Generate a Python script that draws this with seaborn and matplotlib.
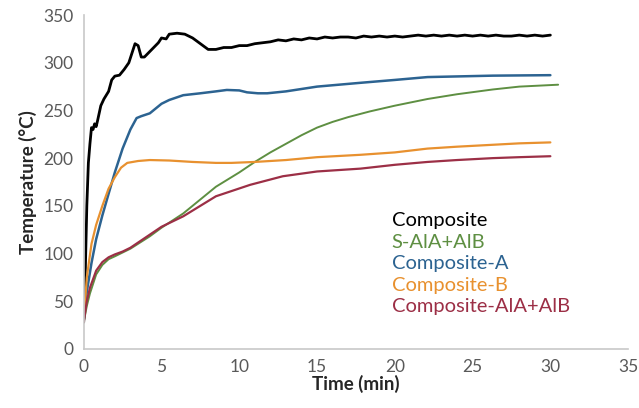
import matplotlib
matplotlib.use('Agg')
import pandas as pd
import matplotlib.pyplot as plt
import seaborn as sns

sns.set_style('white')
plt.rcParams['font.family'] = ['Lato', 'DejaVu Sans']

# Composite (black, noisy trace)
t_comp = [0, 0.1, 0.2, 0.3, 0.4, 0.5, 0.6, 0.7, 0.8, 0.9, 1.1, 1.3, 1.6, 1.8, 2.0, 2.3,
          2.6, 2.9, 3.1, 3.3, 3.5, 3.7, 3.9, 4.2, 4.5, 4.8, 5.0, 5.3, 5.5, 6.0, 6.5, 7.0,
          7.5, 8.0, 8.5, 9.0, 9.5, 10, 10.5, 11, 11.5, 12, 12.5, 13, 13.5, 14, 14.5, 15,
          15.5, 16, 16.5, 17, 17.5, 18, 18.5, 19, 19.5, 20, 20.5, 21, 21.5, 22, 22.5, 23,
          23.5, 24, 24.5, 25, 25.5, 26, 26.5, 27, 27.5, 28, 28.5, 29, 29.5, 30]
T_comp = [28, 80, 150, 195, 215, 232, 230, 236, 233, 240, 255, 262, 270, 282, 286, 287,
          293, 300, 310, 320, 318, 306, 306, 311, 316, 321, 326, 325, 330, 331, 330, 326,
          320, 314, 314, 316, 316, 318, 318, 320, 321, 322, 324, 323, 325, 324, 326, 325,
          327, 326, 327, 327, 326, 328, 327, 328, 327, 328, 327, 328, 329, 328, 329, 328,
          329, 328, 329, 328, 329, 328, 329, 328, 328, 329, 328, 329, 328, 329]

# S-AlA+AlB (green)
t_s = [0, 0.2, 0.4, 0.8, 1.2, 1.6, 2.0, 2.5, 3.0, 4.25, 5.0, 6.4, 8.5, 10, 11, 12,
       13, 14, 15, 16, 17, 18.4, 20, 22.1, 24, 26.3, 28, 30.5]
T_s = [28, 45, 58, 78, 88, 94, 97, 101, 105, 118, 127, 142, 170, 185, 196, 206,
       215, 224, 232, 238, 243, 249, 255, 262, 267, 272, 275, 277]

# Composite-A (blue)
t_a = [0, 0.2, 0.5, 0.8, 1.2, 1.5, 2.0, 2.5, 3.0, 3.4, 3.7, 4.25, 5.0, 5.5, 6.4, 7.5,
       8.5, 9.2, 10, 10.5, 11.2, 11.8, 13, 15, 17.8, 20, 22.1, 26.3, 30]
T_a = [30, 60, 90, 115, 140, 157, 185, 210, 230, 242, 244, 247, 257, 261, 266, 268,
       270, 271.5, 271, 269, 268, 268, 270, 275, 279, 282, 285, 286.5, 287]

# Composite-B (orange)
t_b = [0, 0.2, 0.5, 0.8, 1.2, 1.6, 2.0, 2.4, 2.8, 3.5, 4.25, 5.5, 7.0, 8.5, 9.5, 11,
       13, 15, 17.8, 20, 22.1, 24, 26.3, 28, 30]
T_b = [30, 75, 110, 130, 150, 168, 180, 190, 195, 197, 198, 197.5, 196, 195, 195, 196,
       198, 201, 203.5, 206, 210, 212, 214, 215.5, 216.5]

# Composite-AlA+AlB (red)
t_r = [0, 0.2, 0.4, 0.8, 1.2, 1.6, 2.0, 2.5, 3.0, 4.0, 5.0, 6.4, 8.5, 10.7, 12.8, 15,
       17.8, 20, 22.1, 24, 26.3, 28, 30]
T_r = [28, 50, 64, 82, 91, 96, 99, 102, 106, 117, 128, 139, 160, 172, 181, 186,
       189, 193, 196, 198, 200, 201, 202]

labels = ['Composite', 'S-AlA+AlB', 'Composite-A', 'Composite-B', 'Composite-AlA+AlB']
colors = ['#000000', '#5e8f42', '#2c6391', '#e8912f', '#9c2f46']
widths = [2.0, 1.4, 1.8, 1.6, 1.6]
series = [(t_comp, T_comp), (t_s, T_s), (t_a, T_a), (t_b, T_b), (t_r, T_r)]

fig, ax = plt.subplots(figsize=(6.39, 4.08), dpi=100)
fig.subplots_adjust(left=0.131, right=0.983, bottom=0.145, top=0.963)

for (t, T), lab, c, lw in zip(series, labels, colors, widths):
    df = pd.DataFrame({'Time': t, 'Temp': T})
    sns.lineplot(data=df, x='Time', y='Temp', ax=ax, color=c, lw=lw,
                 label=lab, sort=False, estimator=None)

ax.set_xlim(0, 35)
ax.set_ylim(0, 350)
ax.set_xticks(range(0, 36, 5))
ax.set_yticks(range(0, 351, 50))
ax.set_xlabel('Time (min)', fontsize=13.5, fontweight='bold', labelpad=0)
ax.set_ylabel('Temperature (°C)', fontsize=13.5, fontweight='bold', labelpad=4)

sns.despine(ax=ax)
for s in ['left', 'bottom']:
    ax.spines[s].set_color('#c8c8c8')
    ax.spines[s].set_linewidth(1.2)
ax.tick_params(axis='both', direction='inout', length=8, width=1.1, color='#c8c8c8',
               labelcolor='#595959', labelsize=12.5)

leg = ax.legend(loc='upper left', bbox_to_anchor=(0.597, 0.505),
                bbox_transform=fig.transFigure, frameon=False,
                handlelength=0, handletextpad=0, labelcolor='linecolor',
                fontsize=14.5, labelspacing=0.22, borderpad=0)
for h in leg.legend_handles:
    h.set_visible(False)

fig.savefig('out.png', dpi=100)
